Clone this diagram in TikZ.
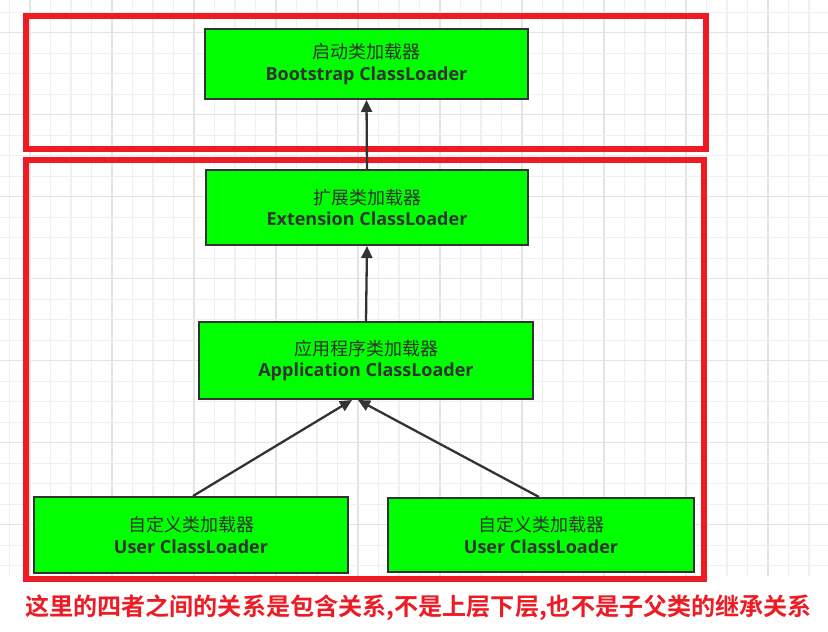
\documentclass[tikz,border=0pt]{standalone}
\usepackage{fontspec}
\usetikzlibrary{arrows.meta}
\newfontfamily\cjk{Noto Sans CJK SC}
\newfontfamily\cjkbold{Noto Sans CJK SC Bold}
\newfontfamily\latbold{Open Sans Bold}
\definecolor{gridminor}{HTML}{F0F0F0}
\definecolor{gridmajor}{HTML}{E4E4E4}
\definecolor{boxgreen}{HTML}{00FF00}
\definecolor{boxline}{HTML}{333333}
\definecolor{framered}{HTML}{ED1C24}
\tikzset{
  loader/.style={draw=boxline, line width=2pt, fill=boxgreen, text=boxline,
    align=center, inner sep=0pt, font=\fontsize{18}{21.5}\selectfont},
  redframe/.style={draw=framered, line width=6pt},
  inherit/.style={draw=boxline, line width=2.3pt, -{Triangle[length=12pt,width=11pt]}},
}
\newcommand{\twolines}[2]{{\cjk #1}\\{\latbold #2}}
\begin{document}
\begin{tikzpicture}[x=1pt,y=-1pt]
\useasboundingbox (0,0) rectangle (828,632);
\fill[white] (0,0) rectangle (828,632);
% grid
\foreach \k in {0,...,39}{
  \pgfmathsetmacro{\xx}{9.5+20.5*\k}
  \pgfmathtruncatemacro{\m}{mod(\k,4)}
  \ifnum\m=1 \draw[gridmajor, line width=1.4pt] (\xx,0) -- (\xx,576);
  \else \draw[gridminor, line width=1.2pt] (\xx,0) -- (\xx,576); \fi
}
\foreach \k in {0,...,27}{
  \pgfmathsetmacro{\yy}{12.2+20.5*\k}
  \pgfmathtruncatemacro{\m}{mod(\k,4)}
  \ifnum\m=1 \draw[gridmajor, line width=1.4pt] (0,\yy) -- (828,\yy);
  \else \draw[gridminor, line width=1.2pt] (0,\yy) -- (828,\yy); \fi
}
% red frames
\draw[redframe] (26,16) rectangle (706,149);
\draw[redframe] (26,160) rectangle (704,579);
% loaders
\node[loader, minimum width=323pt, minimum height=70pt] (boot) at (366.5,64)
  {\twolines{启动类加载器}{Bootstrap ClassLoader}};
\node[loader, minimum width=322pt, minimum height=75pt] (ext) at (367,207.5)
  {\twolines{扩展类加载器}{Extension ClassLoader}};
\node[loader, minimum width=334pt, minimum height=77pt] (app) at (366,360.5)
  {\twolines{应用程序类加载器}{Application ClassLoader}};
\node[loader, minimum width=314pt, minimum height=76pt] (user1) at (191,535)
  {\twolines{自定义类加载器}{User ClassLoader}};
\node[loader, minimum width=306pt, minimum height=74pt] (user2) at (541,535)
  {\twolines{自定义类加载器}{User ClassLoader}};
% arrows
\draw[inherit] (ext.north) -- (boot.south);
\draw[inherit] (app.north) -- (ext.south);
\draw[inherit] ([xshift=2pt]user1.north) -- ([xshift=-14pt]app.south);
\draw[inherit] ([xshift=-2pt]user2.north) -- ([xshift=-8pt]app.south);
% caption
\node[text=framered, font=\cjkbold\fontsize{24.1}{24}\selectfont, anchor=west, inner sep=0pt] (note) at (25,608)
  {这里的四者之间的关系是包含关系,不是上层下层,也不是子父类的继承关系};
\end{tikzpicture}
\end{document}
